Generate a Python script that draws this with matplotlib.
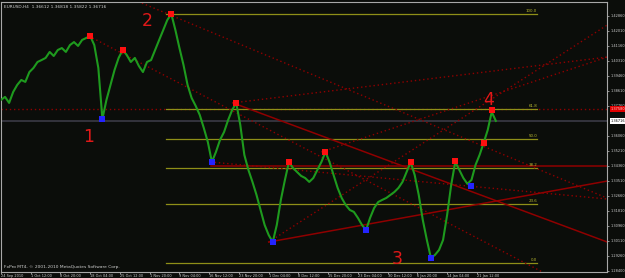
import numpy as np
import matplotlib
matplotlib.use("Agg")
import matplotlib.pyplot as plt
import matplotlib.transforms as mtransforms

# ---------- data ----------
title_text = "EURUSD,H4  1.36612 1.36818 1.35822 1.36716"
footer_text = "FxPro MT4, \u00a9 2001-2010 MetaQuotes Software Corp."

# closes sampled every 6 H4 bars
closes = [
    1.3810, 1.3827, 1.3793, 1.3855, 1.3895, 1.3923, 1.3912, 1.3968, 1.3991, 1.4025,
    1.4036, 1.4048, 1.4082, 1.4059, 1.4093, 1.4104, 1.4082, 1.4121, 1.4138, 1.4116,
    1.4150, 1.4161, 1.4172, 1.4121, 1.3991, 1.3702, 1.3810, 1.3895, 1.3980, 1.4048,
    1.4093, 1.4065, 1.4025, 1.4048, 1.4002, 1.3968, 1.4025, 1.4036, 1.4093, 1.4150,
    1.4206, 1.4263, 1.4297, 1.4206, 1.4104, 1.4008, 1.3895, 1.3821, 1.3776, 1.3725,
    1.3651, 1.3571, 1.3458, 1.3515, 1.3583, 1.3628, 1.3696, 1.3753, 1.3793, 1.3668,
    1.3498, 1.3413, 1.3345, 1.3271, 1.3186, 1.3101, 1.3044, 1.3004, 1.3101, 1.3243,
    1.3356, 1.3458, 1.3424, 1.3401, 1.3379, 1.3367, 1.3345, 1.3367, 1.3413, 1.3458,
    1.3515, 1.3458, 1.3384, 1.3311, 1.3254, 1.3214, 1.3186, 1.3175, 1.3141, 1.3101,
    1.3072, 1.3141, 1.3197, 1.3231, 1.3243, 1.3254, 1.3271, 1.3288, 1.3311, 1.3345,
    1.3401, 1.3458, 1.3384, 1.3271, 1.3129, 1.3016, 1.2914, 1.2931, 1.2959, 1.3016,
    1.3158, 1.3328, 1.3458, 1.3413, 1.3367, 1.3334, 1.3356, 1.3441, 1.3498, 1.3566,
    1.3639, 1.3742, 1.3691,
]
step = 6

# pivots: index into closes, square price
red_idx = [22, 30, 42, 58, 71, 80, 101, 112, 119, 121]
red_price = [1.4172, 1.4093, 1.4297, 1.3793, 1.3458, 1.3515, 1.3458, 1.3464, 1.3566, 1.3753]
blue_idx = [25, 52, 67, 90, 106, 116]
blue_price = [1.3702, 1.3458, 1.3004, 1.3072, 1.2914, 1.3322]

# wave numbers: text, bar, price
wave_labels = ["1", "2", "3", "4"]
wave_bar = [130, 216, 586, 721]
wave_price = [1.3600, 1.4255, 1.2908, 1.3810]

# fibonacci retracement
fib_high = 1.4297
fib_low = 1.2885
fib_levels = [1.0, 0.618, 0.5, 0.382, 0.236, 0.0]
fib_names = ["100.0", "61.8", "50.0", "38.2", "23.6", "0.0"]
fib_start, fib_end = 244, 793

# trendlines (bar, price) pairs
solid_lines = [
    ((343, 1.3793), (897, 1.3004)),
    ((310, 1.3435), (897, 1.3435)),
    ((396, 1.3004), (897, 1.3350)),
]
dotted_rays = [
    ((247, 1.4297), (702, 1.3566)),
]
dotted_segments = [
    ((130, 1.4172), (801, 1.2834)),
    ((310, 1.3458), (897, 1.3248)),
    ((343, 1.3793), (897, 1.4053)),
    ((474, 1.3515), (897, 1.4053)),
    ((396, 1.3004), (897, 1.4235)),
]
level_612 = 1.3758
level_612_text = "1.37580"
last_text = "1.36716"

# axes ticks
date_labels = ["24 Sep 2010", "1 Oct 12:00", "8 Oct 20:00", "18 Oct 04:00", "25 Oct 12:00",
               "1 Nov 20:00", "9 Nov 04:00", "16 Nov 12:00", "23 Nov 20:00", "1 Dec 04:00",
               "8 Dec 12:00", "15 Dec 20:00", "23 Dec 04:00", "30 Dec 12:00", "6 Jan 20:00",
               "14 Jan 04:00", "21 Jan 12:00"]
date_step = 44
price_ticks = [1.42860, 1.42010, 1.41160, 1.40310, 1.39460, 1.38610, 1.37760,
               1.36060, 1.35210, 1.34360, 1.33510, 1.32660, 1.31810, 1.30960,
               1.30110, 1.29260, 1.28400]

# ---------- style ----------
BG = "#0b0d0a"
AXC = "#a8a8a8"
TXT = "#d0d0d0"
DARKRED = "#8f0000"
FIBC = "#8f8f18"
FS = 2.5

fig = plt.figure(figsize=(6.25, 2.78), dpi=100, facecolor=BG)
ax = fig.add_axes([1 / 625, 6.5 / 278, 606 / 625, 270 / 278])
ax.set_facecolor(BG)

bars = np.arange(len(closes)) * step
ax.set_xlim(1.5, 896.5)
ax.set_ylim(1.2837, 1.4368)

# current price line and 61.8 dotted level
ax.axhline(closes[-1], color="#3a3a46", lw=1.2, zorder=1)
ax.axhline(level_612, color=DARKRED, lw=1, ls=(0, (1, 2)), zorder=1)

# fibo
for lv, name in zip(fib_levels, fib_names):
    p = fib_low + lv * (fib_high - fib_low)
    ax.plot([fib_start, fib_end], [p, p], color=FIBC, lw=0.9, zorder=2)
    ax.text(fib_end, p + 0.0005, name, color="#b8b830", fontsize=FS + 0.4,
            ha="right", va="bottom", zorder=5)

# trendlines
for (a, b) in solid_lines:
    ax.plot([a[0], b[0]], [a[1], b[1]], color=DARKRED, lw=1.1, zorder=2)
for (a, b) in dotted_rays:
    ax.axline(a, b, color=DARKRED, lw=1, ls=(0, (1, 2)), zorder=2)
for (a, b) in dotted_segments:
    ax.plot([a[0], b[0]], [a[1], b[1]], color=DARKRED, lw=1, ls=(0, (1, 2)), zorder=2)

# price
ax.plot(bars, closes, color="#1e9a1e", lw=1.5, zorder=3)

# pivot squares
ax.scatter(bars[red_idx], red_price, marker="s", s=24, color="#ff1010", zorder=4, linewidths=0)
ax.scatter(bars[blue_idx], blue_price, marker="s", s=24, color="#2424ff", zorder=4, linewidths=0)

for t, bx, py in zip(wave_labels, wave_bar, wave_price):
    ax.text(bx, py, t, color="#e01818", fontsize=12.5, ha="center", va="center", zorder=5)

# axes look
for s in ax.spines.values():
    s.set_color(AXC)
    s.set_linewidth(0.8)
ax.yaxis.tick_right()
ax.set_yticks(price_ticks)
ax.set_yticklabels([f"{v:.5f}" for v in price_ticks])
xt = np.arange(len(date_labels)) * date_step
ax.set_xticks(xt)
ax.set_xticklabels(date_labels, ha="left")
ax.tick_params(axis="both", colors=AXC, labelcolor=TXT, labelsize=FS,
               length=1.5, width=0.6, pad=1.0)
ax.tick_params(axis="x", pad=0.2)

# price labels on the right axis
tr = mtransforms.blended_transform_factory(ax.transAxes, ax.transData)
ax.text(1.0055, level_612, level_612_text, transform=tr, fontsize=FS, color="#ffd0d0",
        va="center", ha="left", clip_on=False,
        bbox=dict(boxstyle="square,pad=0.2", fc="#e00000", ec="none"))
ax.text(1.0055, closes[-1], last_text, transform=tr, fontsize=FS, color="black",
        va="center", ha="left", clip_on=False,
        bbox=dict(boxstyle="square,pad=0.2", fc="white", ec="none"))

fig.text(4 / 625, 1 - 7 / 278, title_text, color=TXT, fontsize=FS + 0.6, va="center")
fig.text(4 / 625, 1 - 267 / 278, footer_text, color=TXT, fontsize=FS + 0.7, va="center")

fig.savefig("out.png", dpi=100, facecolor=BG)
